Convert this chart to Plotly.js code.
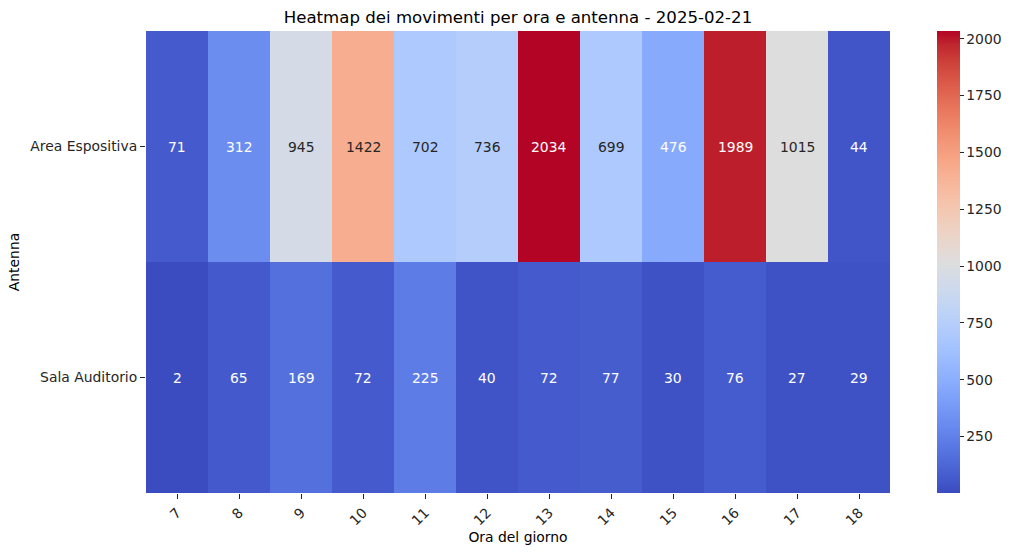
<!DOCTYPE html>
<html>
<head>
<meta charset="utf-8">
<script src="https://cdn.plot.ly/plotly-3.0.1.min.js"></script>
<style>html,body{margin:0;padding:0;background:#fff}#chart{width:1014px;height:556px}</style>
</head>
<body>
<div id="chart"></div>
<script>
const hours = ['7','8','9','10','11','12','13','14','15','16','17','18'];
const antennas = ['Area Espositiva','Sala Auditorio'];
const areaEspositiva = [71,312,945,1422,702,736,2034,699,476,1989,1015,44];
const salaAuditorio = [2,65,169,72,225,40,72,77,30,76,27,29];
const colorbarTicks = [250,500,750,1000,1250,1500,1750,2000];

// matplotlib coolwarm
const cw = [
[59,76,192],[68,90,204],[77,104,215],[87,117,225],[98,130,234],[108,142,241],[119,154,247],[130,165,251],
[141,176,254],[152,185,255],[163,194,255],[174,201,253],[184,208,249],[194,213,244],[204,217,238],[213,219,230],
[221,221,221],[229,216,209],[236,211,197],[241,204,185],[245,196,173],[247,187,160],[247,177,148],[247,166,135],
[244,154,123],[241,141,111],[236,127,99],[229,112,88],[222,96,77],[213,80,66],[203,62,56],[192,40,47],[180,4,38]];
const colorscale = cw.map((c,i)=>[i/(cw.length-1), `rgb(${c[0]},${c[1]},${c[2]})`]);

const z = [areaEspositiva, salaAuditorio];
const all = z.flat();
const zmin = Math.min(...all), zmax = Math.max(...all);

function colorAt(v){
  let t = (v-zmin)/(zmax-zmin);
  t = Math.min(255, Math.floor(t*256))/255;
  const p = t*(cw.length-1);
  const i = Math.min(cw.length-2, Math.floor(p));
  const f = p-i;
  return cw[i].map((a,k)=>a+(cw[i+1][k]-a)*f);
}
function lum(c){
  const l = c.map(x=>{x/=255;return x<=0.03928?x/12.92:Math.pow((x+0.055)/1.055,2.4);});
  return 0.2126*l[0]+0.7152*l[1]+0.0722*l[2];
}

const FS = 13.9;
const annotations = [];
z.forEach((row,r)=>row.forEach((v,c)=>{
  annotations.push({x:c, y:r, xref:'x', yref:'y', text:String(v), showarrow:false,
    font:{family:'DejaVu Sans', size:FS, color: lum(colorAt(v))>0.408 ? '#262626' : '#ffffff'}});
}));

const trace = {
  type:'heatmap', x:hours, y:antennas, z:z, zmin:zmin, zmax:zmax,
  colorscale:colorscale, xgap:0, ygap:0,
  colorbar:{xref:'container', x:937/1014, xanchor:'left', yref:'paper', y:0.5, yanchor:'middle', len:1, lenmode:'fraction', thickness:23,
    outlinewidth:0, ticks:'outside', ticklen:4, tickcolor:'#262626', xpad:0, ypad:0,
    tickvals:colorbarTicks, ticktext:colorbarTicks.map(String),
    tickfont:{family:'DejaVu Sans', size:FS, color:'#262626'}}
};

const layout = {
  width:1014, height:556,
  margin:{l:146, r:124, t:31, b:63, autoexpand:false},
  paper_bgcolor:'#fff', plot_bgcolor:'#fff',
  font:{family:'DejaVu Sans', size:FS, color:'#262626'},
  title:{text:'Heatmap dei movimenti per ora e antenna - 2025-02-21', x:0.5, xref:'paper', xanchor:'center', yref:'container', y:1-17/556, yanchor:'middle', font:{family:'DejaVu Sans', size:16.6, color:'#000'}},
  xaxis:{type:'category', tickangle:-45, ticks:'outside', ticklen:5, tickcolor:'#262626', showgrid:false, zeroline:false, showline:false,
    tickfont:{family:'DejaVu Sans', size:FS, color:'#262626'},
    title:{text:'Ora del giorno', font:{family:'DejaVu Sans', size:FS, color:'#000'}, standoff:4}},
  yaxis:{type:'category', autorange:'reversed', ticks:'outside', ticklen:5, tickcolor:'#262626', showgrid:false, zeroline:false, showline:false,
    tickfont:{family:'DejaVu Sans', size:FS, color:'#262626'},
    title:{text:'Antenna', font:{family:'DejaVu Sans', size:FS, color:'#000'}, standoff:7}},
  annotations:annotations
};

Plotly.newPlot('chart',[trace],layout,{displayModeBar:false, staticPlot:true});
</script>
</body>
</html>
